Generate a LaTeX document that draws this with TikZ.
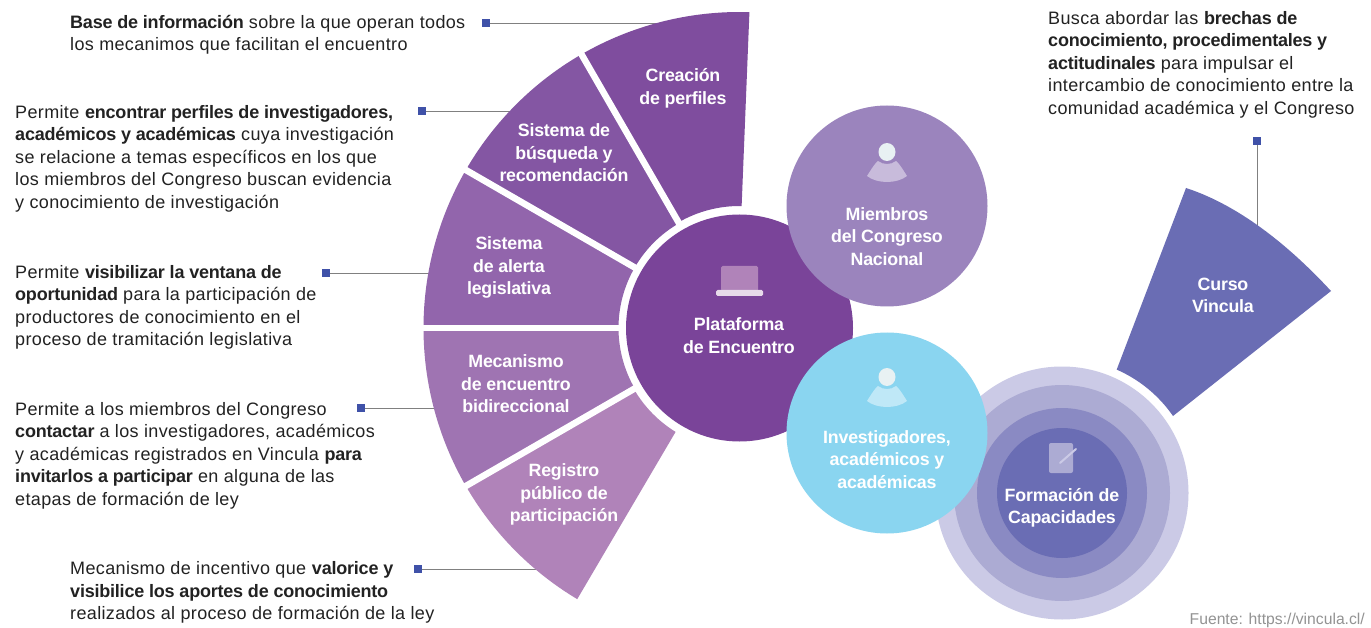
\documentclass[tikz,border=0pt]{standalone}
\usepackage{fontspec}
\setmainfont{Liberation Sans}[LetterSpace=2,BoldFeatures={LetterSpace=-1.2}]
\newfontfamily\srcfont{Liberation Sans}
\definecolor{cA}{HTML}{7F4D9E}
\definecolor{cB}{HTML}{8456A3}
\definecolor{cC}{HTML}{9265AC}
\definecolor{cD}{HTML}{9F74B2}
\definecolor{cE}{HTML}{B083B9}
\definecolor{cMain}{HTML}{7A4499}
\definecolor{cMiem}{HTML}{9B84BD}
\definecolor{cInv}{HTML}{8AD5F0}
\definecolor{rA}{HTML}{CBCAE6}
\definecolor{rB}{HTML}{ACABD3}
\definecolor{rC}{HTML}{8A8AC3}
\definecolor{rD}{HTML}{6A6DB4}
\definecolor{txt}{HTML}{222222}
\definecolor{lead}{HTML}{808080}
\definecolor{mark}{HTML}{3F51A8}
\definecolor{headc}{HTML}{E8F1F3}
\tikzset{
  desc/.style={anchor=west,align=left,inner sep=0pt,text=txt,font=\fontsize{18}{22.5}\selectfont},
  lab/.style={align=center,inner sep=0pt,text=white,font=\fontsize{17.8}{22.5}\selectfont\bfseries},
  sq/.style={fill=mark,minimum size=8pt,inner sep=0pt,draw=none,rectangle},
  leader/.style={draw=lead,line width=0.8pt}
}
\newcommand\wedgeseg[3]{\fill[#1] ([shift={(#2:316pt)}]ctr) arc[start angle=#2,end angle=#3,radius=316pt] -- ([shift={(#3:121pt)}]ctr) arc[start angle=#3,end angle=#2,radius=121pt] -- cycle;}
\newcommand\personicon[3]{%
  \fill[#3] (#1-20,#2+24) .. controls (#1-15,#2+16) and (#1-11,#2+10) .. (#1-9,#2+9)
     .. controls (#1-4,#2+13) and (#1+4,#2+13) .. (#1+9,#2+9)
     .. controls (#1+11,#2+10) and (#1+15,#2+16) .. (#1+20,#2+24)
     .. controls (#1+10,#2+32) and (#1-10,#2+32) .. (#1-20,#2+24) -- cycle;
  \fill[headc] (#1,#2) ellipse[x radius=8.5pt,y radius=9pt];}
\begin{document}
\begin{tikzpicture}[x=1pt,y=-1pt]
\useasboundingbox (0,0) rectangle (1371,628);
\fill[white] (0,0) rectangle (1371,628);
\coordinate (ctr) at (739.5,328);
\node[sq] (s1) at (486,23) {};
\node[sq] (s2) at (422,111) {};
\node[sq] (s3) at (326,273) {};
\node[sq] (s4) at (361,408) {};
\node[sq] (s5) at (418,569) {};
\node[sq] (s6) at (1257,141) {};
\coordinate (e1) at (680,23);
\coordinate (e2) at (530,111);
\coordinate (e3) at (450,273);
\coordinate (e4) at (460,408);
\coordinate (e5) at (560,569);
\coordinate (e6) at (1257,250);
\foreach \a/\b in {s1/e1,s2/e2,s3/e3,s4/e4,s5/e5,s6/e6} \draw[leader] (\a) -- (\b);
% fan
\fill[cA] ([shift={(120:316pt)}]ctr) arc[start angle=120,end angle=88.2,radius=316pt] -- ([shift={(89:122pt)}]ctr) arc[start angle=89,end angle=120,radius=122pt] -- cycle;
\wedgeseg{cB}{150}{120}
\wedgeseg{cC}{180}{150}
\wedgeseg{cD}{210}{180}
\fill[cE] ([shift={(210:316pt)}]ctr) arc[start angle=210,end angle=239.1,radius=316pt] -- ([shift={(238.4:122pt)}]ctr) arc[start angle=238.4,end angle=210,radius=122pt] -- cycle;
\foreach \g in {120,150,180,210}
  \draw[white,line width=6.5pt] ([shift={(\g:110pt)}]ctr) -- ([shift={(\g:322pt)}]ctr);
\fill[cMain] (ctr) circle[radius=113.5pt];
% concentric
\coordinate (rc) at (1062,493);
\fill[rA] (rc) circle[radius=126.5pt];
\fill[rB] (rc) circle[radius=108pt];
\fill[rC] (rc) circle[radius=85pt];
\fill[rD] (rc) circle[radius=65pt];
% curso wedge
\fill[rD] (1186,188) .. controls (1232,203) and (1281,237) .. (1331,291) -- (1173,416)
   arc[start angle=34.7,end angle=66.3,radius=134pt] -- cycle;
% big circles
\fill[cMiem] (887,206) circle[radius=100.5pt];
\fill[cInv] (887,433) circle[radius=100.5pt];
% icons
\fill[cE,rounded corners=1.5pt] (721,266) rectangle (758,291);
\fill[white!70!cE,rounded corners=1.5pt] (716,290) rectangle (763,296);
\personicon{887}{152}{white!45!cMiem}
\personicon{887}{377}{white!45!cInv}
\fill[rB,rounded corners=2pt] (1049,443) rectangle (1073,473);
\draw[rA,line width=2pt,line cap=round] (1060,463) -- (1076,449);
% labels
\node[lab] (l1) at (683,88.5) {Creación\\de perfiles};
\node[lab] (l2) at (564,153) {Sistema de\\búsqueda y\\recomendación};
\node[lab] (l3) at (509,267.5) {Sistema\\de alerta\\legislativa};
\node[lab] (l4) at (516,384) {Mecanismo\\de encuentro\\bidireccional};
\node[lab] (l5) at (564,494.5) {Registro\\público de\\participación};
\node[lab] (l6) at (739,335.5) {Plataforma\\de Encuentro};
\node[lab] (l7) at (887,236.5) {Miembros\\del Congreso\\Nacional};
\node[lab] (l8) at (887,459.5) {Investigadores,\\académicos y\\académicas};
\node[lab] (l9) at (1062,508) {Formación de\\Capacidades};
\node[lab] (l10) at (1223,295.5) {Curso\\Vincula};
% descriptions
\node[desc] (d1) at (70,35) {\textbf{Base de información} sobre la que operan todos\\los mecanimos que facilitan el encuentro};
\node[desc] (d2) at (15,158.5) {Permite \textbf{encontrar perfiles de investigadores,}\\\textbf{académicos y académicas} cuya investigación\\se relacione a temas específicos en los que\\los miembros del Congreso buscan evidencia\\y conocimiento de investigación};
\node[desc] (d3) at (15,307.5) {Permite \textbf{visibilizar la ventana de}\\\textbf{oportunidad} para la participación de\\productores de conocimiento en el\\proceso de tramitación legislativa};
\node[desc] (d4) at (15,455.5) {Permite a los miembros del Congreso\\\textbf{contactar} a los investigadores, académicos\\y académicas registrados en Vincula \textbf{para}\\\textbf{invitarlos a participar} en alguna de las\\etapas de formación de ley};
\node[desc] (d5) at (70,592.5) {Mecanismo de incentivo que \textbf{valorice y}\\\textbf{visibilice los aportes de conocimiento}\\realizados al proceso de formación de la ley};
\node[desc] (d6) at (1048,64.5) {Busca abordar las \textbf{brechas de}\\\textbf{conocimiento, procedimentales y}\\\textbf{actitudinales} para impulsar el\\intercambio de conocimiento entre la\\comunidad académica y el Congreso};
\node[anchor=east,inner sep=0pt,text=lead!85,font=\srcfont\fontsize{15.7}{18}\selectfont] (src) at (1365,620) {Fuente: https://vincula.cl/};
\end{tikzpicture}
\end{document}
